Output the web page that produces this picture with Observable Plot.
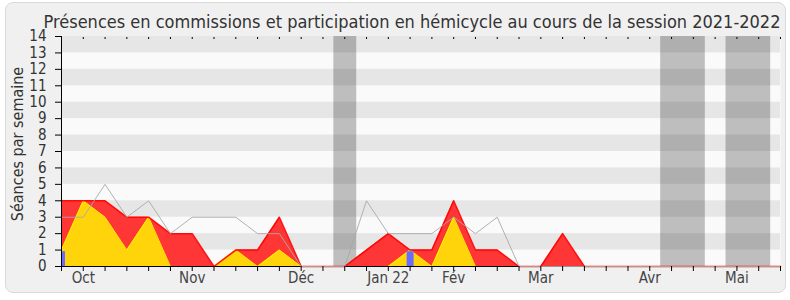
<!DOCTYPE html>
<html>
<head>
<meta charset="utf-8">
<script src="https://cdn.jsdelivr.net/npm/d3@7"></script>
<script src="https://cdn.jsdelivr.net/npm/@observablehq/plot@0.6"></script>
<style>
  html, body { margin: 0; padding: 0; background: #ffffff; }
  #wrap { position: relative; width: 790px; height: 300px; overflow: hidden;
          font-family: "DejaVu Sans Condensed", "DejaVu Sans", sans-serif; font-stretch: condensed; }
  #frame { position: absolute; left: 5px; top: 2px; width: 779px; height: 289px;
           background: #f0f0f0; border: 1px solid #dadada; border-radius: 8px; }
  #title { position: absolute; left: 0; width: 824px; top: 13px; text-align: center;
           font-size: 18px; line-height: 1; color: #333; white-space: nowrap; }
  #ylab { position: absolute; left: 18px; top: 144px; width: 0; height: 0; }
  #ylab span { position: absolute; transform: translate(-50%, -50%) rotate(-90deg);
               white-space: nowrap; font-size: 16px; line-height: 1; color: #333; }
  #chart { position: absolute; left: 0; top: 0; }
</style>
</head>
<body>
<div id="wrap">
  <div id="frame"></div>
  <div id="title">Présences en commissions et participation en hémicycle au cours de la session 2021-2022</div>
  <div id="ylab"><span>Séances par semaine</span></div>
  <div id="chart"></div>
</div>
<script>
// Week index of the session (one point per week)
const weeks = [0,1,2,3,4,5,6,7,8,9,10,11,12,13,14,15,16,17,18,19,20,21,22,23,24,25,26,27,28,29,30,31,32,33];
// Présences en commissions (red)
const commissions = [4,4,4,3,3,2,2,0,1,1,3,0,0,0,1,2,1,1,4,1,1,0,0,2,0,0,0,0,0,0,0,0,0,0];
// Participation en hémicycle (yellow)
const hemicycle = [1,4,3,1,3,0,0,0,1,0,1,0,0,0,0,0,1,0,3,0,0,0,0,0,0,0,0,0,0,0,0,0,0,0];
// Médiane des députés (grey line)
const mediane = [3,3,5,3,4,2,3,3,3,2,2,0,0,0,4,2,2,2,3,2,3,0,0,0,0,0,0,0,0,0,0,0,0,0];
// Questions orales (blue bars)
const questionWeeks = [0, 16];
const questionValues = [0.9, 0.9];
// Vacances parlementaires (grey bands), in weeks
const vacStart = [12.5, 27.5, 30.5];
const vacEnd = [13.55, 29.55, 32.55];
// Month tick labels
const monthWeeks = [1, 6, 11, 15, 18, 22, 27, 31];
const monthLabels = ["Oct", "Nov", "Déc", "Jan 22", "Fév", "Mar", "Avr", "Mai"];
// Y ticks
const yTicks = [0,1,2,3,4,5,6,7,8,9,10,11,12,13,14];

const data = weeks.map((w, i) => ({w, red: commissions[i], yellow: hemicycle[i], grey: mediane[i]}));
const questions = questionWeeks.map((w, i) => ({w, v: questionValues[i]}));
const vacances = vacStart.map((s, i) => ({s, e: vacEnd[i]}));
const stripes = yTicks.filter(t => t % 2 === 1);
const monthMap = new Map(monthWeeks.map((w, i) => [w, monthLabels[i]]));

const chart = Plot.plot({
  width: 790,
  height: 300,
  marginTop: 36,
  marginBottom: 34,
  marginLeft: 61,
  marginRight: 10,
  x: {domain: [0, 33], axis: null},
  y: {domain: [0, 14], axis: null},
  style: {background: "transparent", overflow: "visible",
          fontFamily: "'DejaVu Sans Condensed', 'DejaVu Sans', sans-serif", fontStretch: "condensed"},
  marks: [
    Plot.frame({fill: "#fafafa", stroke: null}),
    Plot.rect(stripes, {x1: 0, x2: 33, y1: d => d, y2: d => d + 1, fill: "#e6e6e6"}),
    Plot.rect(vacances, {x1: "s", x2: "e", fill: "#000", fillOpacity: 0.24}),
    Plot.areaY(data, {x: "w", y: "red", fill: "#ff3636"}),
    Plot.areaY(data, {x: "w", y: "yellow", fill: "#ffd40a"}),
    Plot.lineY(data, {x: "w", y: "yellow", stroke: "#ffee00", strokeWidth: 1}),
    Plot.ruleY([0], {stroke: "#000"}),
    Plot.lineY(data, {x: "w", y: "red", stroke: "#ff0000", strokeWidth: 1.5, strokeOpacity: 0.9}),
    Plot.ruleX(questions, {x: "w", y1: 0, y2: "v", stroke: "#6b6bff", strokeWidth: 7, clip: true}),
    Plot.lineY(data, {x: "w", y: "grey", stroke: "#a9a9a9", strokeWidth: 1, strokeOpacity: 0.9}),
    Plot.ruleX([0], {stroke: "#000"}),
    Plot.axisY({ticks: yTicks, tickSize: 6, tickPadding: 9, fontSize: 15, color: "#333", stroke: "#000", tickFormat: d => String(d)}),
    Plot.axisX({anchor: "bottom", ticks: weeks, tickSize: 5, tickFormat: () => "", stroke: "#000"}),
    Plot.axisX({anchor: "top", ticks: weeks, tickSize: 2, dy: 2, tickFormat: () => "", stroke: "#000"}),
    Plot.axisX({anchor: "bottom", ticks: monthWeeks, tickSize: 0, tickPadding: 6, fontSize: 15, color: "#444", tickFormat: d => monthMap.get(d)})
  ]
});
document.getElementById("chart").appendChild(chart);
</script>
</body>
</html>
